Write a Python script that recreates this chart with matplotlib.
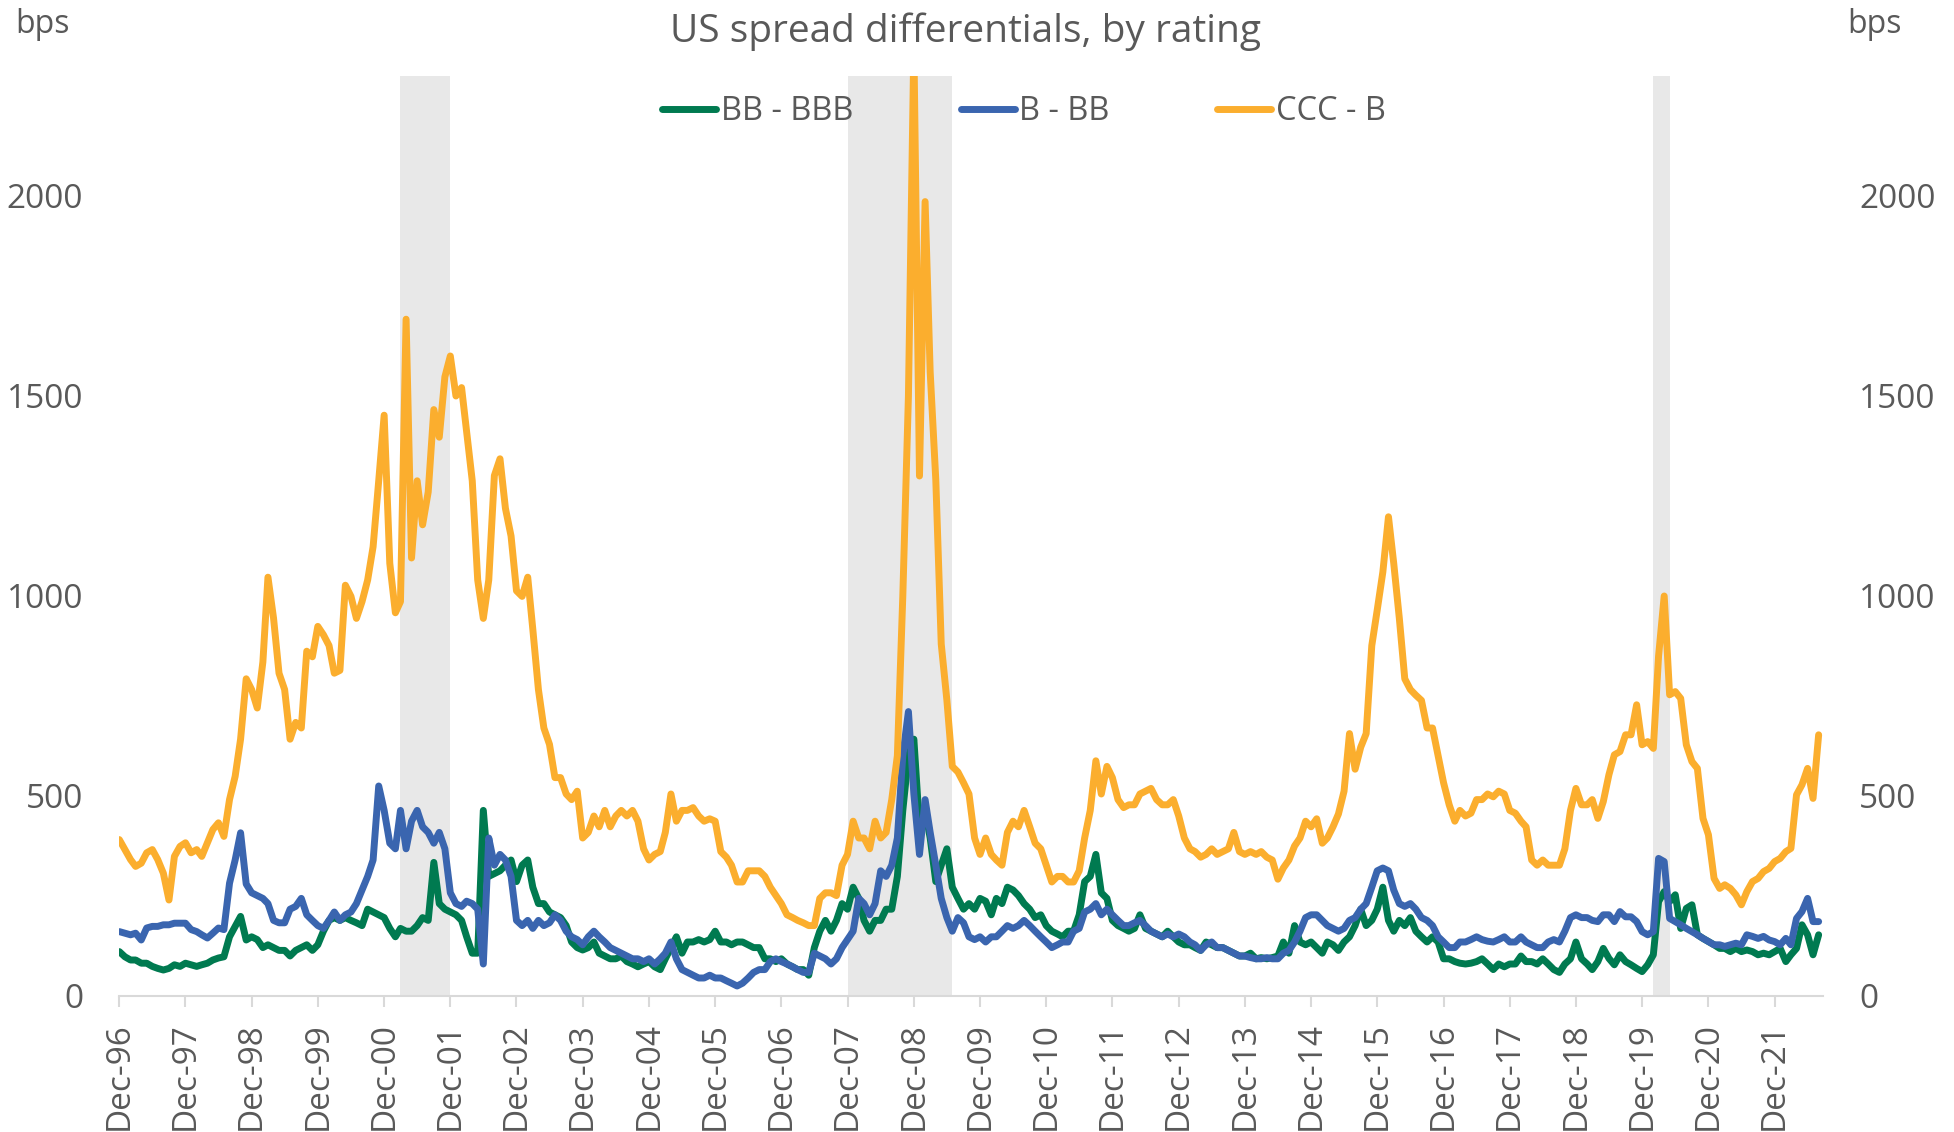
import pandas as pd
import matplotlib
matplotlib.use("Agg")
import matplotlib.pyplot as plt

# monthly observations, Dec-96 .. Aug-22 (bps)
months = pd.date_range("1996-12-01", "2022-08-01", freq="MS")

bb_bbb = [
    111,
    98, 90, 90, 82, 82, 74, 69, 65, 69, 78, 74, 82,
    78, 74, 78, 82, 90, 95, 98, 148, 174, 199, 140, 148,
    141, 121, 128, 121, 114, 114, 100, 114, 121, 128, 114, 128,
    162, 189, 196, 189, 196, 189, 183, 176, 217, 210, 203, 196,
    169, 148, 169, 162, 162, 176, 196, 189, 334, 231, 217, 210,
    203, 189, 148, 107, 107, 464, 299, 306, 313, 327, 340, 286,
    327, 340, 272, 231, 231, 210, 203, 196, 176, 135, 121, 115,
    121, 135, 107, 100, 93, 93, 100, 86, 80, 73, 80, 86,
    73, 66, 93, 121, 148, 107, 135, 135, 141, 135, 141, 162,
    135, 135, 128, 135, 135, 128, 121, 121, 93, 93, 86, 93,
    80, 73, 66, 66, 52, 121, 162, 189, 162, 189, 231, 217,
    272, 244, 189, 162, 189, 189, 217, 217, 299, 464, 601, 642,
    423, 464, 395, 286, 327, 368, 272, 244, 217, 231, 217, 244,
    237, 203, 244, 231, 272, 265, 251, 231, 217, 196, 203, 176,
    162, 155, 148, 162, 162, 203, 286, 299, 354, 258, 244, 189,
    176, 169, 162, 169, 203, 169, 162, 155, 148, 162, 148, 135,
    128, 128, 121, 114, 135, 128, 121, 121, 114, 107, 100, 100,
    107, 93, 96, 93, 96, 100, 135, 107, 176, 135, 128, 135,
    121, 107, 135, 128, 114, 135, 148, 176, 217, 176, 189, 217,
    272, 189, 162, 189, 176, 196, 162, 148, 135, 148, 135, 93,
    93, 86, 82, 80, 82, 86, 93, 80, 66, 80, 73, 80,
    80, 100, 86, 86, 80, 93, 80, 66, 59, 80, 93, 135,
    93, 80, 66, 86, 119, 94, 78, 103, 86, 78, 69, 61,
    78, 103, 236, 261, 236, 253, 169, 219, 228, 153, 144, 136,
    128, 119, 119, 111, 119, 111, 115, 111, 103, 107, 103, 111,
    119, 86, 103, 119, 178, 153, 103, 153,
]

b_bb = [
    161,
    157, 153, 157, 140, 170, 174, 174, 178, 178, 182, 182, 182,
    166, 161, 153, 145, 157, 170, 166, 282, 340, 408, 280, 258,
    251, 244, 231, 189, 183, 183, 217, 224, 244, 203, 189, 176,
    169, 189, 210, 189, 203, 210, 231, 265, 299, 340, 525, 464,
    382, 368, 464, 368, 437, 464, 423, 409, 382, 409, 368, 258,
    231, 224, 237, 231, 217, 80, 395, 327, 354, 340, 299, 189,
    176, 189, 169, 189, 176, 183, 203, 189, 162, 148, 141, 128,
    148, 162, 148, 135, 121, 114, 107, 100, 93, 93, 86, 93,
    80, 93, 107, 135, 93, 66, 59, 52, 45, 45, 52, 45,
    45, 38, 32, 25, 32, 45, 59, 66, 66, 86, 93, 86,
    80, 73, 66, 59, 59, 107, 100, 93, 80, 93, 121, 141,
    162, 244, 231, 203, 231, 313, 299, 327, 395, 601, 711, 505,
    354, 491, 409, 327, 244, 196, 162, 196, 183, 148, 141, 148,
    135, 148, 148, 162, 176, 169, 176, 189, 176, 162, 148, 135,
    121, 128, 135, 135, 162, 169, 210, 217, 231, 203, 217, 203,
    189, 176, 176, 183, 189, 176, 162, 155, 148, 155, 148, 155,
    148, 135, 128, 114, 128, 135, 121, 121, 114, 107, 100, 100,
    96, 93, 93, 96, 93, 93, 107, 114, 135, 162, 196, 203,
    203, 189, 176, 169, 162, 169, 189, 196, 217, 231, 272, 313,
    320, 313, 265, 231, 224, 231, 217, 196, 189, 176, 148, 135,
    121, 121, 135, 135, 141, 148, 141, 137, 135, 141, 148, 135,
    135, 148, 135, 128, 121, 121, 135, 141, 135, 162, 196, 203,
    196, 196, 189, 186, 203, 203, 186, 211, 198, 198, 186, 161,
    153, 161, 344, 336, 194, 186, 178, 169, 161, 153, 144, 136,
    128, 128, 124, 128, 132, 128, 153, 149, 144, 149, 140, 136,
    128, 144, 128, 194, 211, 244, 186, 186,
]

ccc_b = [
    391,
    366, 341, 324, 332, 358, 366, 341, 307, 240, 349, 374, 383,
    358, 366, 349, 383, 416, 433, 399, 491, 549, 642, 793, 766,
    720, 835, 1047, 944, 807, 766, 642, 684, 670, 862, 848, 924,
    903, 876, 807, 814, 1027, 999, 944, 986, 1040, 1123, 1288, 1452,
    1082, 958, 986, 1692, 1095, 1288, 1178, 1260, 1466, 1397, 1548, 1600,
    1500, 1521, 1411, 1288, 1040, 944, 1040, 1301, 1343, 1219, 1150, 1013,
    999, 1047, 917, 766, 670, 629, 546, 546, 505, 491, 512, 395,
    409, 450, 423, 464, 423, 450, 464, 450, 464, 437, 368, 340,
    354, 361, 409, 505, 437, 464, 464, 471, 450, 437, 443, 437,
    361, 347, 327, 285, 285, 313, 313, 313, 299, 272, 251, 231,
    203, 196, 189, 183, 176, 176, 244, 258, 258, 251, 327, 354,
    437, 395, 395, 368, 437, 395, 409, 491, 601, 1000, 1500, 2380,
    1300, 1986, 1560, 1290, 880, 740, 574, 560, 533, 505, 395, 354,
    395, 354, 340, 327, 409, 437, 423, 464, 423, 382, 368, 327,
    285, 299, 299, 285, 285, 313, 395, 464, 588, 505, 574, 546,
    491, 471, 478, 478, 505, 512, 519, 491, 478, 478, 491, 450,
    395, 368, 361, 347, 354, 368, 354, 361, 368, 409, 361, 354,
    361, 354, 361, 347, 340, 292, 320, 340, 375, 395, 437, 423,
    443, 382, 395, 423, 455, 512, 656, 567, 622, 656, 876, 965,
    1060, 1198, 1082, 944, 793, 766, 752, 739, 670, 670, 601, 533,
    478, 437, 464, 450, 457, 491, 491, 505, 498, 512, 505, 464,
    457, 437, 423, 340, 327, 340, 327, 327, 327, 368, 464, 519,
    478, 478, 491, 444, 486, 553, 603, 611, 653, 653, 728, 628,
    636, 619, 850, 1000, 753, 761, 744, 628, 586, 569, 444, 403,
    294, 269, 278, 269, 253, 228, 261, 286, 294, 311, 319, 336,
    344, 361, 369, 503, 528, 569, 494, 653,
]

series_names = ["BB - BBB", "B - BB", "CCC - B"]
series_colors = ["#007A50", "#3A65AF", "#FBAE2E"]

# recession periods (shaded)
recessions = [("2001-03-01", "2001-12-01"),
              ("2007-12-01", "2009-07-01"),
              ("2020-02-01", "2020-05-01")]

y_ticks = [0, 500, 1000, 1500, 2000]
tick_dates = pd.date_range("1996-12-01", "2021-12-01", freq="12MS")

TEXT = "#595959"
AXIS = "#d9d9d9"

plt.rcParams["font.family"] = ["Open Sans", "DejaVu Sans"]

fig = plt.figure(figsize=(19.54, 11.32), dpi=100)
W, H = 1954, 1132
ax = fig.add_axes([119.3 / W, 1 - 996 / H, (1823 - 119.3) / W, (996 - 76) / H])

for start, end in recessions:
    ax.axvspan(pd.Timestamp(start), pd.Timestamp(end), color="#e8e8e8", lw=0, zorder=0)

for name, vals, col in zip(series_names, [bb_bbb, b_bb, ccc_b], series_colors):
    assert len(vals) == len(months), name
    ax.plot(months, vals, color=col, lw=5.0, label=name,
            solid_joinstyle="round", solid_capstyle="round", zorder=3)

ax.set_xlim(pd.Timestamp("1996-12-01"), pd.Timestamp("2022-08-25"))
ax.set_ylim(0, 2300)

ax.set_xticks(tick_dates)
ax.set_xticklabels([d.strftime("%b-%y") for d in tick_dates], rotation=90)
ax.set_yticks(y_ticks)

for side in ["left", "right", "top"]:
    ax.spines[side].set_visible(False)
ax.spines["bottom"].set_color(AXIS)
ax.spines["bottom"].set_linewidth(1.5)

ax.tick_params(axis="x", length=8, width=1.5, color=AXIS, pad=11,
               labelsize=24, labelcolor=TEXT)
ax.tick_params(axis="y", length=0, pad=26, labelsize=24, labelcolor=TEXT)

# mirrored axis on the right
ax2 = ax.twinx()
ax2.set_ylim(ax.get_ylim())
ax2.set_yticks(y_ticks)
for side in ["left", "right", "top", "bottom"]:
    ax2.spines[side].set_visible(False)
ax2.tick_params(axis="y", length=0, pad=26, labelsize=24, labelcolor=TEXT)

leg = ax.legend(loc="center", bbox_to_anchor=(0.531, 0.961), ncol=3, frameon=False,
                fontsize=23.5, handlelength=1.65, handletextpad=0.15, columnspacing=3.3,
                labelcolor=TEXT)
leg.set_zorder(10)

fig.text(965 / W, 1 - 42 / H, "US spread differentials, by rating",
         ha="center", va="baseline", fontsize=28, color=TEXT)
fig.text(15 / W, 1 - 33 / H, "bps", ha="left", va="baseline", fontsize=23, color=TEXT)
fig.text(1847 / W, 1 - 33 / H, "bps", ha="left", va="baseline", fontsize=23, color=TEXT)

fig.savefig("out.png", dpi=100)
